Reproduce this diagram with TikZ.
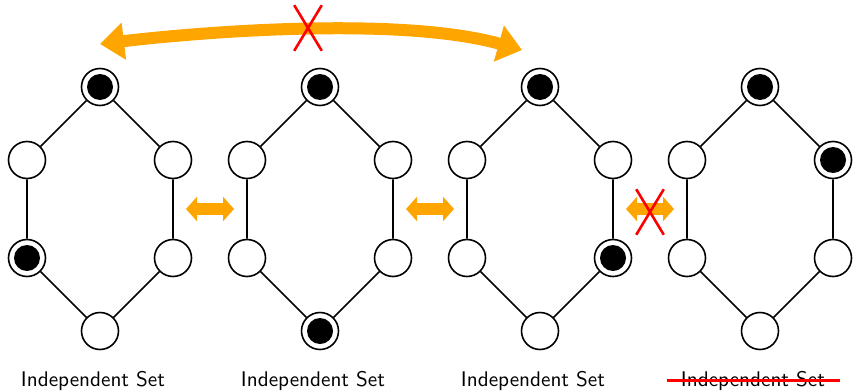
\documentclass[tikz,border=0pt]{standalone}
\usetikzlibrary{positioning,arrows.meta,shapes.misc}
\definecolor{swapcol}{HTML}{FFA500}
\tikzset{
  vertex/.style={circle, draw, fill=white, line width=0.8pt, minimum size=18.5pt, inner sep=0pt},
  swaparrow/.style={<->, swapcol, line width=5.8pt, >={Triangle[length=5.5pt,width=12pt]}},
  nope/.style={cross out, draw=red, line width=1.3pt, minimum width=12.5pt, minimum height=21.5pt, inner sep=0pt},
}
\begin{document}
\begin{tikzpicture}[x=0.5pt, y=-0.5pt, node distance=36.5pt and 36.5pt, on grid]
  \useasboundingbox (0,0) rectangle (854,390);

  % four hexagons
  \foreach \g/\x in {1/100, 2/320, 3/540, 4/760} {
    \node[vertex] (t\g) at (\x,87) {};
    \node[vertex, below left=of t\g] (a\g) {};
    \node[vertex, below right=of t\g] (b\g) {};
    \node[vertex, below=49pt of a\g] (c\g) {};
    \node[vertex, below=49pt of b\g] (d\g) {};
    \node[vertex, below right=of c\g] (e\g) {};
    \draw[line width=0.8pt] (t\g)--(a\g)--(c\g)--(e\g)--(d\g)--(b\g)--(t\g);
    \node[font=\sffamily\fontsize{10.6}{13}\selectfont, below=27.5pt of e\g, xshift=-3.5pt, anchor=base] (l\g) {Independent Set};
  }

  % chosen vertices
  \foreach \n in {t1, c1, t2, e2, t3, d3, t4, b4}
    \fill (\n) circle (6.5pt);

  \draw[red, line width=1.5pt] ([xshift=-3.7pt,yshift=3pt]l4.base west) -- ([xshift=3.7pt,yshift=3pt]l4.base east);

  % moves between sets
  \coordinate (p1) at (186,209);
  \coordinate (q1) at (234,209);
  \coordinate (p2) at (406,209);
  \coordinate (q2) at (454,209);
  \coordinate (p3) at (626,209);
  \coordinate (q3) at (674,209);
  \draw[swaparrow] (p1)--(q1);
  \draw[swaparrow] (p2)--(q2);
  \draw[swaparrow] (p3)--(q3);
  \node[nope] (x2) at (650,212) {};

  \coordinate (fl) at (100,44);
  \coordinate (fr) at (522,50);
  \draw[<->, swapcol, line width=6pt, >={Triangle[length=12pt,width=18pt]}]
    (fl) .. controls (200,32) and (400,16) .. (fr);
  \node[nope] (x1) at (308,28) {};
\end{tikzpicture}
\end{document}
